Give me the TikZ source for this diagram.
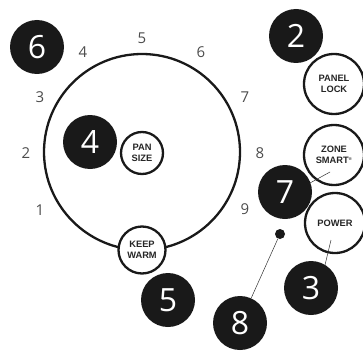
\documentclass[tikz,border=0pt]{standalone}
\usepackage{fontspec}
\setmainfont{Open Sans}
\newfontfamily\lblfont{Liberation Sans}
\begin{document}
\begin{tikzpicture}[x=1pt,y=-1pt,
  badge/.style={circle,fill=black!90,text=white,minimum size=54pt,inner sep=0pt,font=\fontsize{32}{32}\selectfont},
  btn/.style={circle,draw=black!90,line width=2.3pt,fill=white,inner sep=0pt,align=center,font=\lblfont\bfseries\fontsize{9.3}{11.5}\selectfont,text=black!85},
  dial/.style={text=black!70,font=\fontsize{15}{15}\selectfont,inner sep=0pt},
  thin/.style={line width=0.5pt,black!80}]
\useasboundingbox (0,0) rectangle (363,350);
\node[circle,draw=black!90,line width=2.3pt,minimum size=196pt,inner sep=0pt] (ring) at (142,152) {};
% dial numbers
\node[dial] (d1) at (40,210) {1};
\node[dial] (d2) at (26,153) {2};
\node[dial] (d3) at (40,97) {3};
\node[dial] (d4) at (83,52) {4};
\node[dial] (d5) at (142,38) {5};
\node[dial] (d6) at (201,52) {6};
\node[dial] (d7) at (245,97) {7};
\node[dial] (d8) at (260,153) {8};
\node[dial] (d9) at (245,209) {9};
% buttons
\node[btn,minimum size=42pt] (pan) at (142,153) {PAN\\SIZE};
\node[btn,minimum size=47pt] (keep) at (142,250) {KEEP\\WARM};
\node[btn,minimum size=60pt] (lock) at (334,84) {PANEL\\LOCK};
\node[btn,minimum size=60pt] (zone) at (334,155) {ZONE\\SMART\textsuperscript{\fontsize{4}{4}\selectfont ®}};
\node[btn,minimum size=60pt] (power) at (335,223) {POWER};
% badges
\node[badge] (b6) at (37,47) {6};
\node[badge] (b2) at (296,36) {2};
\node[badge] (b4) at (90,142) {4};
\node[badge] (b7) at (285,192) {7};
\node[badge] (b5) at (168,300) {5};
\node[badge] (b3) at (311,288) {3};
\node[badge] (b8) at (240,323) {8};
\node[circle,fill=black!90,minimum size=10pt,inner sep=0pt] (dot) at (280,234) {};
% leaders
\coordinate (z1) at (310,183);
\coordinate (z2) at (330,172);
\draw[thin] (z1) -- (z2);
\draw[thin] (dot) -- (b8);
\coordinate (p1) at (331,240);
\coordinate (p2) at (325,265);
\draw[thin] (p1) -- (p2);
\end{tikzpicture}
\end{document}
